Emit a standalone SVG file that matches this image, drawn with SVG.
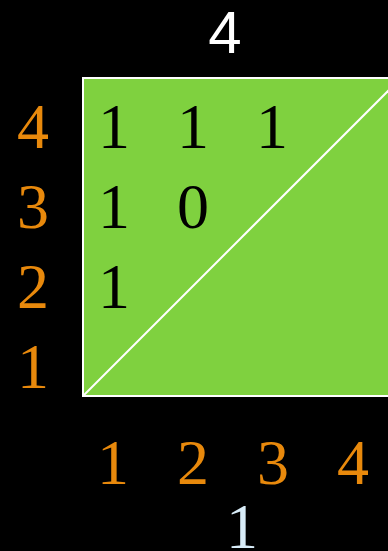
<svg xmlns="http://www.w3.org/2000/svg" width="388" height="551" viewBox="0 0 388 551">
<style>
.o{font-family:"Liberation Serif",serif;font-size:64px;fill:#E8890C;text-anchor:middle}
.k{font-family:"Liberation Serif",serif;font-size:64px;fill:#000;text-anchor:middle}
</style>
<rect width="388" height="551" fill="#000"/>
<g id="square">
<rect x="83" y="78" width="318" height="318" fill="#7FD13F" stroke="#fff" stroke-width="2"/>
<line x1="83" y1="396" x2="401" y2="78" stroke="#fff" stroke-width="2"/>
</g>
<g id="top-label"><text x="225" y="53" font-family="Liberation Sans,sans-serif" font-size="60" fill="#fff" text-anchor="middle">4</text></g>
<g id="row-labels">
<text class="o" x="33" y="148">4</text>
<text class="o" x="33" y="228">3</text>
<text class="o" x="33" y="308">2</text>
<text class="o" x="33" y="388">1</text>
</g>
<g id="cells">
<text class="k" x="114" y="148">1</text>
<text class="k" x="193" y="148">1</text>
<text class="k" x="272" y="148">1</text>
<text class="k" x="114" y="228">1</text>
<text class="k" x="193" y="228">0</text>
<text class="k" x="114" y="308">1</text>
</g>
<g id="col-labels">
<text class="o" x="113" y="484">1</text>
<text class="o" x="193" y="484">2</text>
<text class="o" x="273" y="484">3</text>
<text class="o" x="353" y="484">4</text>
</g>
<g id="bottom-label"><text x="242" y="548" font-family="Liberation Serif,serif" font-size="64" fill="#D8ECF8" text-anchor="middle">1</text></g>
</svg>
